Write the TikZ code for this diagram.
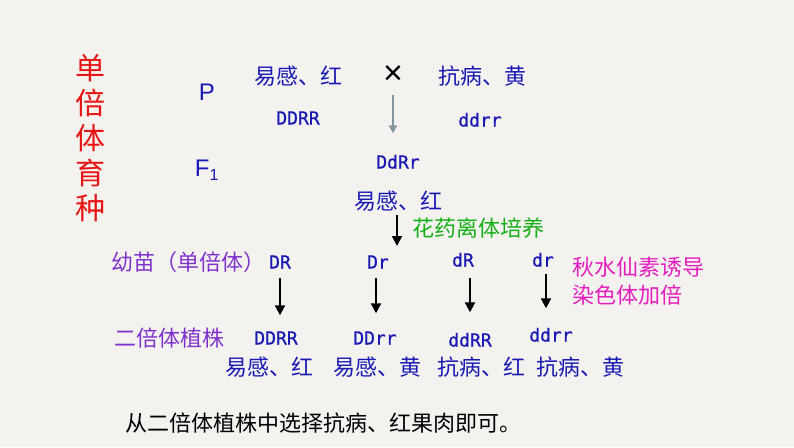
\documentclass[tikz,border=0pt]{standalone}
\usepackage{fontspec}
\setmainfont{Noto Sans CJK SC}
\newfontfamily\genofont[FakeBold=0.7]{DejaVu Sans Mono}
\newfontfamily\latinfont{Liberation Sans}
\usetikzlibrary{arrows.meta}

\definecolor{paper}{RGB}{243,242,239}
\definecolor{geneblue}{RGB}{25,25,180}
\definecolor{titlered}{RGB}{232,20,20}
\definecolor{stepgreen}{RGB}{20,175,20}
\definecolor{plantpurple}{RGB}{128,50,205}
\definecolor{drugpink}{RGB}{228,30,190}
\definecolor{arrowgray}{RGB}{130,150,160}

\tikzset{
  pheno/.style={text=geneblue, font=\fontsize{22}{24}\selectfont, inner sep=0pt,
    text height=17pt, text depth=3pt},
  geno/.style={text=geneblue, font=\genofont\fontsize{18}{20}\selectfont, inner sep=0pt,
    text height=13pt, text depth=0pt},
  gen/.style={text=geneblue, font=\latinfont\fontsize{24}{26}\selectfont, inner sep=0pt},
  note/.style={font=\fontsize{22}{24}\selectfont, inner sep=0pt, anchor=west},
  downarrow/.style={-{Triangle[length=10pt,width=10pt]}, line width=2pt},
}

\begin{document}
\begin{tikzpicture}[x=1pt,y=-1pt]
    \useasboundingbox[fill=paper] (0,0) rectangle (794,447);

    % title
    \node[text=titlered, font=\fontsize{30}{35}\selectfont, align=center, inner sep=0pt]
        (title) at (90,138) {单\\倍\\体\\育\\种};

    % parents
    \node[gen] (P) at (207,92) {P};
    \node[gen] (F1) at (207,170) {F\textsubscript{\fontsize{16}{18}\selectfont 1}};
    \node[pheno] (mother) at (298,77) {易感、红};
    \node[geno] (motherg) at (298,118) {DDRR};
    \node[font=\latinfont\fontsize{34}{36}\selectfont, inner sep=0pt] (cross) at (393,75) {×};
    \node[pheno] (father) at (482,77) {抗病、黄};
    \node[geno] (fatherg) at (480,120) {ddrr};

    % F1
    \node[geno] (f1g) at (398,162) {DdRr};
    \node[pheno] (f1) at (398,202) {易感、红};
    \draw[-{Triangle[length=8pt,width=8pt]}, line width=2pt, arrowgray, shorten <=10pt, shorten >=22pt]
        (cross.south) -- (cross.south |- f1g.north);
    \coordinate (pollen) at (397,246);
    \draw[downarrow, shorten <=3pt] (f1.south -| pollen) -- (pollen);
    \node[note, text=stepgreen] (culture) at (412,228) {花药离体培养};

    % haploids
    \node[note, text=plantpurple] (seedling) at (111,262) {幼苗（单倍体）};
    \node[geno] (hDR) at (280,262) {DR};
    \node[geno] (hDr) at (378,262) {Dr};
    \node[geno] (hdR) at (463,260) {dR};
    \node[geno] (hdr) at (543,260) {dr};
    \node[note, text=drugpink, align=left, font=\fontsize{22}{28}\selectfont] (colch) at (572,281)
        {秋水仙素诱导\\染色体加倍};

    % diploids
    \node[note, text=plantpurple] (diploid) at (114,338) {二倍体植株};
    \node[geno] (dDDRR) at (276,338) {DDRR};
    \node[geno] (dDDrr) at (375,338) {DDrr};
    \node[geno] (dddRR) at (470,340) {ddRR};
    \node[geno] (dddrr) at (551,335) {ddrr};
    \draw[downarrow, shorten <=9pt, shorten >=16pt] (hDR.south) -- (hDR.south |- dDDRR.north);
    \draw[downarrow, shorten <=9pt, shorten >=18pt] ([xshift=-2pt]hDr.south) -- ([xshift=-2pt]hDr.south |- dDDrr.north);
    \draw[downarrow, shorten <=11pt, shorten >=21pt] ([xshift=7pt]hdR.south) -- ([xshift=7pt]hdR.south |- dddRR.north);
    \draw[downarrow, shorten <=7pt, shorten >=20pt] ([xshift=3pt]hdr.south) -- ([xshift=3pt]hdr.south |- dddrr.north);

    % phenotypes
    \node[pheno] (pDDRR) at (269,368) {易感、红};
    \node[pheno] (pDDrr) at (377,368) {易感、黄};
    \node[pheno] (pddRR) at (481,368) {抗病、红};
    \node[pheno] (pddrr) at (580,368) {抗病、黄};

    \node[note] (choose) at (125,423) {从二倍体植株中选择抗病、红果肉即可。};
\end{tikzpicture}
\end{document}
